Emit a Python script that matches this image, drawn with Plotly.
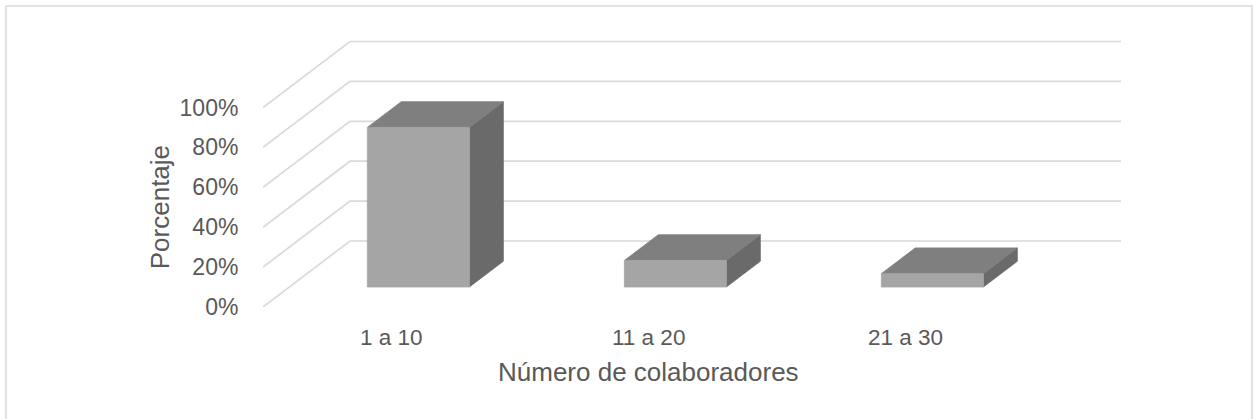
import plotly.graph_objects as go

# Data
categories = ["1 a 10", "11 a 20", "21 a 30"]
percentages = [80.0, 13.3, 6.7]
y_ticks = [0, 20, 40, 60, 80, 100]

# Layout geometry (pixels)
W, H = 1254, 419
ORIGIN_X, ORIGIN_Y = 263, 307        # front-left corner of the floor
PX_PER_CAT = 257                     # width of one category slot
PX_PER_PCT = 1.995                   # vertical pixels per percentage point
DEPTH_PX = (87, 66)                  # oblique offset from front to back wall
PLOT_W = W - ORIGIN_X
PLOT_H = ORIGIN_Y

# Oblique depth vector expressed in axis units
DX = DEPTH_PX[0] / PX_PER_CAT
DY = DEPTH_PX[1] / PX_PER_PCT

# Bar placement inside its slot (fractions of slot / depth)
BAR_OFFSET = 0.3035
BAR_WIDTH = 0.397
BAR_D0 = 0.303
BAR_DEPTH = 0.39

FRONT_COLOR = "#A5A5A5"
TOP_COLOR = "#7F7F7F"
SIDE_COLOR = "#6A6A6A"
GRID_COLOR = "#D9D9D9"
TEXT_COLOR = "#595959"
FONT = "Liberation Sans, Arial, sans-serif"


def px_x(px):
    """Horizontal pixel -> paper coordinate."""
    return (px - ORIGIN_X) / PLOT_W


def px_y(py):
    """Vertical pixel -> paper coordinate."""
    return (ORIGIN_Y - py) / PLOT_H


fig = go.Figure()

# Walls: left-wall diagonals and back-wall horizontals for each tick
for v in y_ticks:
    fig.add_trace(go.Scatter(
        x=[0, DX, len(categories) + DX],
        y=[v, v + DY, v + DY],
        mode="lines",
        line=dict(color=GRID_COLOR, width=1.7),
        hoverinfo="skip", showlegend=False,
    ))


def poly(xs, ys, color):
    fig.add_trace(go.Scatter(
        x=xs + [xs[0]], y=ys + [ys[0]],
        mode="lines", fill="toself", fillcolor=color,
        line=dict(color=color, width=0.8),
        hoverinfo="skip", showlegend=False,
    ))


# 3D-looking bars built from the percentages
for i, val in enumerate(percentages):
    x0 = i + BAR_OFFSET + BAR_D0 * DX
    x1 = x0 + BAR_WIDTH
    yb = BAR_D0 * DY
    yt = yb + val
    ddx, ddy = BAR_DEPTH * DX, BAR_DEPTH * DY
    # right side face
    poly([x1, x1, x1 + ddx, x1 + ddx], [yb, yt, yt + ddy, yb + ddy], SIDE_COLOR)
    # top face
    poly([x0, x1, x1 + ddx, x0 + ddx], [yt, yt, yt + ddy, yt + ddy], TOP_COLOR)
    # front face
    poly([x0, x1, x1, x0], [yb, yb, yt, yt], FRONT_COLOR)

# Category labels centred under each slot of the front edge
for i, cat in enumerate(categories):
    fig.add_annotation(
        x=i + 0.5, y=px_y(337),
        xref="x", yref="paper", text=cat, showarrow=False,
        xanchor="center", yanchor="middle",
        font=dict(family=FONT, size=22.5, color=TEXT_COLOR),
    )

# Axis titles
fig.add_annotation(
    x=len(categories) / 2, y=px_y(372),
    xref="x", yref="paper", text="Número de colaboradores", showarrow=False,
    xanchor="center", yanchor="middle",
    font=dict(family=FONT, size=26, color=TEXT_COLOR),
)
fig.add_annotation(
    x=px_x(160), y=50,
    xref="paper", yref="y", text="Porcentaje", showarrow=False, textangle=-90,
    xanchor="center", yanchor="middle",
    font=dict(family=FONT, size=26, color=TEXT_COLOR),
)

# Chart border
fig.add_shape(
    type="rect", xref="paper", yref="paper",
    x0=px_x(6), x1=px_x(1252), y0=px_y(430), y1=px_y(6),
    line=dict(color="#D9D9D9", width=1.5), fillcolor="rgba(0,0,0,0)",
    layer="below",
)

fig.update_layout(
    width=W, height=H, autosize=False,
    margin=dict(l=ORIGIN_X, r=0, t=0, b=H - ORIGIN_Y, pad=0),
    paper_bgcolor="white", plot_bgcolor="white",
    showlegend=False,
    xaxis=dict(
        range=[0, PLOT_W / PX_PER_CAT],
        showgrid=False, zeroline=False, showline=False,
        showticklabels=False, ticks="", fixedrange=True,
    ),
    yaxis=dict(
        range=[0, PLOT_H / PX_PER_PCT],
        tickvals=y_ticks, ticktext=[f"{v}%" for v in y_ticks],
        showgrid=False, zeroline=False, showline=False,
        ticks="outside", ticklen=19, tickcolor="rgba(0,0,0,0)",
        tickfont=dict(family=FONT, size=23, color=TEXT_COLOR),
        fixedrange=True,
    ),
)

fig.write_html("out.html")
